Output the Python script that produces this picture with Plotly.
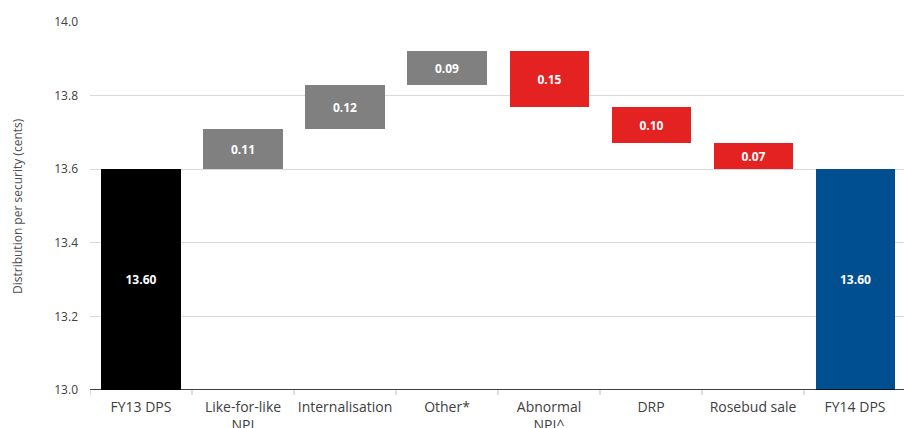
import plotly.graph_objects as go

categories = ["FY13 DPS", "Like-for-like<br>NPI", "Internalisation", "Other*",
              "Abnormal<br>NPI^", "DRP", "Rosebud sale", "FY14 DPS"]
start_value = 13.60
end_value = 13.60
deltas = [0.11, 0.12, 0.09, -0.15, -0.10, -0.07]
axis_floor = 13.0
y_ticks = [13.0, 13.2, 13.4, 13.6, 13.8, 14.0]

C_START = "#000000"
C_UP = "#808080"
C_DOWN = "#e42222"
C_END = "#005091"

bases, heights, colors, labels = [], [], [], []
bases.append(axis_floor); heights.append(start_value - axis_floor)
colors.append(C_START); labels.append(f"{start_value:.2f}")
run = start_value
for d in deltas:
    if d >= 0:
        bases.append(run); heights.append(d); colors.append(C_UP)
    else:
        bases.append(run + d); heights.append(-d); colors.append(C_DOWN)
    labels.append(f"{abs(d):.2f}")
    run += d
bases.append(axis_floor); heights.append(end_value - axis_floor)
colors.append(C_END); labels.append(f"{end_value:.2f}")

fig = go.Figure(go.Bar(
    x=list(range(len(categories))), y=heights, base=bases,
    marker=dict(color=colors, line=dict(width=0)),
    width=0.775,
    text=labels, textposition="inside", insidetextanchor="middle",
    textangle=0,
    textfont=dict(color="white", size=12, family="Open Sans", weight="bold"),
    hoverinfo="skip",
))

fig.update_layout(
    width=904, height=428,
    margin=dict(l=90, r=0, t=22, b=38),
    paper_bgcolor="white", plot_bgcolor="white",
    showlegend=False,
    font=dict(family="Open Sans", color="#404040", size=12),
    bargap=0,
)
fig.update_xaxes(
    range=[-0.5, 7.48],
    tickmode="array", tickvals=list(range(len(categories))), ticktext=categories,
    showgrid=False, showline=False, zeroline=False,
    tickfont=dict(size=14, color="#404040"),
    ticks="",
    ticklabelstandoff=7,
    automargin=False,
)
fig.update_yaxes(
    range=[axis_floor, 14.0],
    tickvals=y_ticks, ticktext=[f"{v:.1f}" for v in y_ticks],
    showgrid=True, gridcolor="#d9d9d9", gridwidth=1,
    zeroline=False, showline=False,
    tickfont=dict(size=12, color="#404040"),
    ticklabelstandoff=11,
    automargin=False,
)
# baseline and category boundary ticks
fig.add_shape(type="line", xref="paper", yref="y", x0=0, x1=1, y0=axis_floor, y1=axis_floor,
              line=dict(color="#000000", width=1.5))
for i in range(len(categories) + 1):
    fig.add_shape(type="line", xref="x", yref="paper", x0=i - 0.5, x1=i - 0.5, y0=0, y1=-0.014,
                  line=dict(color="#bfbfbf", width=1))
fig.add_annotation(
    text="Distribution per security (cents)", textangle=-90,
    xref="paper", yref="paper", x=(17 - 90) / 814, y=0.5,
    xanchor="center", yanchor="middle", showarrow=False,
    font=dict(size=12, color="#505050"),
)
fig.write_html("out.html")
